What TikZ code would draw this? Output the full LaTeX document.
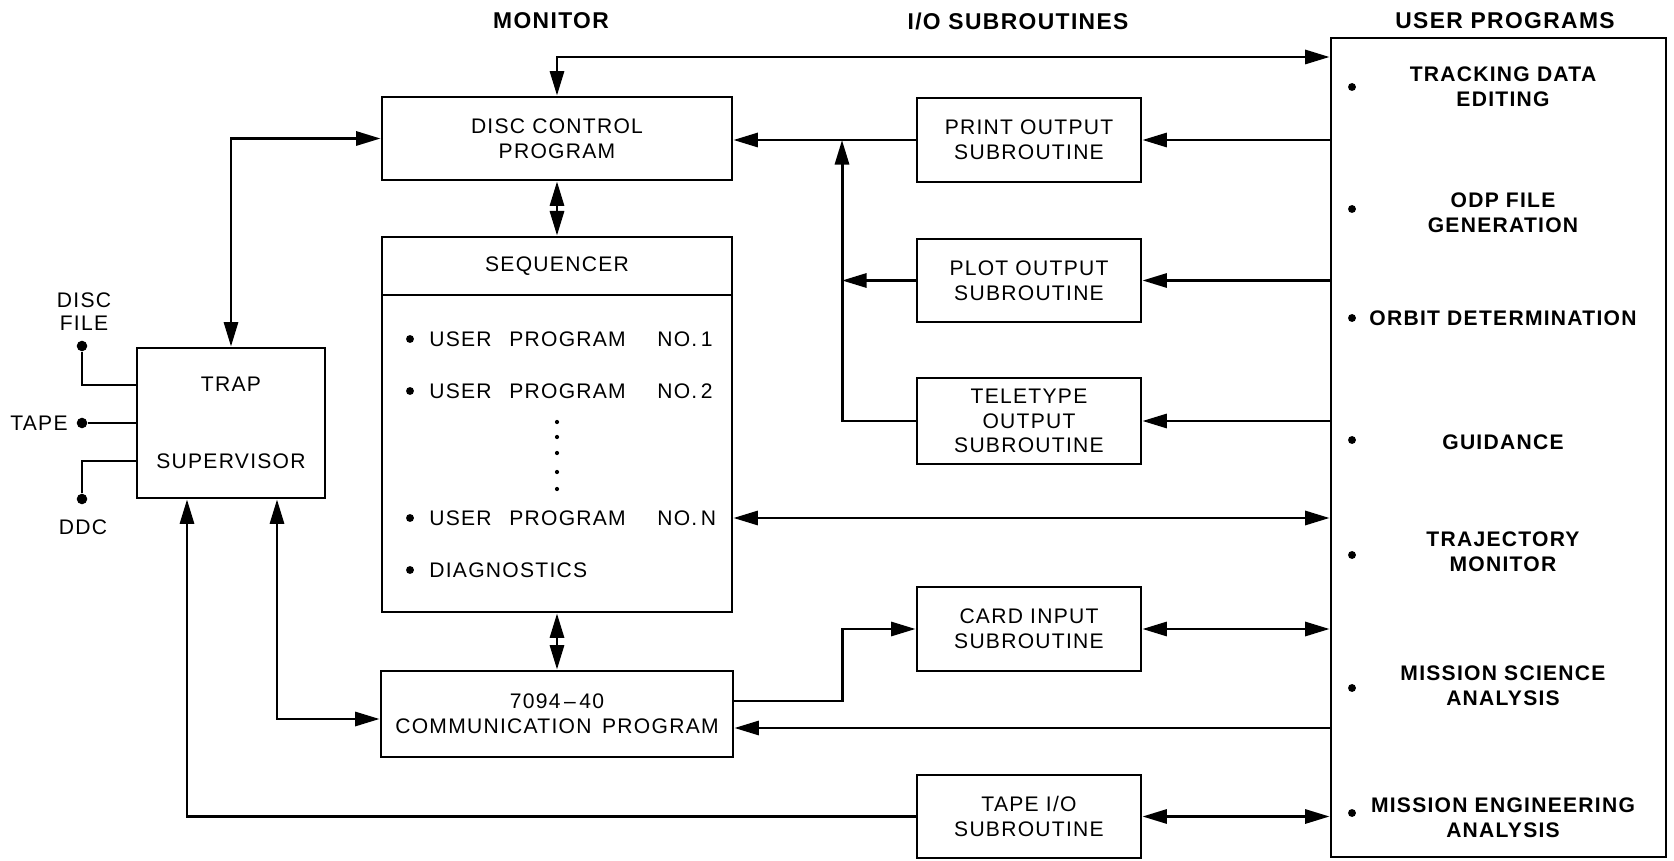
\documentclass[tikz,border=0pt]{standalone}
\usepackage{fontspec}
\setmainfont{Liberation Sans}[LetterSpace=6]
\usetikzlibrary{arrows.meta,calc}
\tikzset{
  pbox/.style={rectangle, draw, line width=1.6pt, inner sep=2pt, align=center,
               font=\fontsize{12}{14}\selectfont},
  pline/.style={line width=1.7pt},
  pdir/.style ={pline, -{Triangle[length=14pt,width=8pt]}},
  pdir2/.style={pline, {Triangle[length=14pt,width=8pt]}-{Triangle[length=14pt,width=8pt]}},
  ptitle/.style={font=\fontsize{13}{15}\selectfont\bfseries},
  pitem/.style={anchor=west, inner sep=0pt, font=\fontsize{12}{14}\selectfont},
  plist/.style={align=center, inner sep=0pt, font=\fontsize{12}{14.5}\selectfont\bfseries},
  plabel/.style={align=center, inner sep=0pt, font=\fontsize{12}{13}\selectfont},
  pbull/.style={circle, fill, inner sep=0pt, minimum size=4.5pt},
  pdot/.style ={circle, fill, inner sep=0pt, minimum size=2.4pt},
  pterm/.style={circle, fill, inner sep=0pt, minimum size=6pt},
}

\begin{document}
\begin{tikzpicture}[x=0.02cm, y=-0.02cm]
  \useasboundingbox (0,0) rectangle (1674,861);

  \node[ptitle] (tmon) at (551,21)  {MONITOR};
  \node[ptitle] (tio)  at (1018,21) {I/O SUBROUTINES};
  \node[ptitle] (tusr) at (1505,21) {USER PROGRAMS};

  \node[pbox, minimum width=3.76cm, minimum height=3cm] (trap) at (231,423)
    {TRAP\\[30pt]SUPERVISOR};
  \node[pbox, minimum width=7cm, minimum height=1.66cm] (disc) at (557,138.5)
    {DISC CONTROL\\PROGRAM};
  \node[pbox, minimum width=7cm, minimum height=1.16cm] (seqhead) at (557,266)
    {SEQUENCER};
  \node[pbox, minimum width=7cm, minimum height=6.34cm] (seqbody) at (557,453.5) {};
  \node[pbox, minimum width=7.04cm, minimum height=1.72cm] (comm) at (557,714)
    {7094\,--\,40\\COMMUNICATION\hspace{6pt}PROGRAM};

  \node[pbox, minimum width=4.48cm, minimum height=1.68cm] (print) at (1029,140)
    {PRINT OUTPUT\\SUBROUTINE};
  \node[pbox, minimum width=4.48cm, minimum height=1.66cm] (plot) at (1029,280.5)
    {PLOT OUTPUT\\SUBROUTINE};
  \node[pbox, minimum width=4.48cm, minimum height=1.72cm] (tele) at (1029,421)
    {TELETYPE\\OUTPUT\\SUBROUTINE};
  \node[pbox, minimum width=4.48cm, minimum height=1.68cm] (card) at (1029,629)
    {CARD INPUT\\SUBROUTINE};
  \node[pbox, minimum width=4.48cm, minimum height=1.66cm] (tape) at (1029,816.5)
    {TAPE I/O\\SUBROUTINE};

  \node[pbox, minimum width=6.7cm, minimum height=16.38cm] (user) at (1498.5,447.5) {};

  \foreach \yy/\nn in {339/1, 391/2, 518/N} {
    \node[pbull] (sb\nn) at (410,\yy) {};
    \node[pitem] (up\nn) at (429,\yy) {USER\hspace{10pt}PROGRAM};
    \node[pitem] (no\nn) at (657,\yy) {NO.\,\nn};
  }
  \node[pbull] (sbd) at (410,570) {};
  \node[pitem] (diag) at (429,570) {DIAGNOSTICS};
  \foreach \yy in {422,437,453,472,489}
    \node[pdot] (sd\yy) at (557,\yy) {};

  \foreach \yy/\by/\txt in {87/87/{TRACKING DATA\\EDITING}, 213/209/{ODP FILE\\GENERATION},
      318/318/{ORBIT DETERMINATION}, 442/440/{GUIDANCE}, 552/555/{TRAJECTORY\\MONITOR},
      686/688/{MISSION SCIENCE\\ANALYSIS}, 818/813/{MISSION ENGINEERING\\ANALYSIS}} {
    \node[pbull] (ub\yy) at (1352,\by) {};
    \node[plist] (ut\yy) at (1503,\yy) {\txt};
  }

  \node[pterm] (dfile) at (82,346) {};
  \node[pterm] (dtape) at (82,423) {};
  \node[pterm] (dddc)  at (82,499) {};
  \node[plabel] (ldfile) at (84,312) {DISC\\FILE};
  \node[plabel, anchor=east] (ldtape) at (68,423) {TAPE};
  \node[plabel] (ldddc) at (83,527) {DDC};
  \draw[pline] (dfile) |- (trap.west |- 0,385);
  \draw[pline] (dtape) -- (trap.west);
  \draw[pline] (dddc) |- (trap.west |- 0,461);

  \coordinate (jp) at (842,140);
  \coordinate (jc) at (842,629);

  \draw[pdir2] (user.west |- 0,57) -| (disc.north);
  \draw[pdir2] (trap.north) |- (disc.west);
  \draw[pdir2] (disc.south) -- (seqhead.north);
  \draw[pdir2] (seqbody.south) -- (comm.north);
  \draw[pdir] (print.west) -- (print.west -| disc.east);
  \draw[pdir] (tele.west) -| (jp);
  \draw[pdir] (plot.west) -- (plot.west -| jp);
  \draw[pdir] (user.west |- print.east) -- (print.east);
  \draw[pdir] (user.west |- plot.east) -- (plot.east);
  \draw[pdir] (user.west |- tele.east) -- (tele.east);
  \draw[pdir2] (seqbody.east |- noN) -- (user.west |- noN);
  \draw[pdir] (comm.east |- 0,701) -| (jc) -- (card.west);
  \draw[pdir2] (card.east) -- (card.east -| user.west);
  \draw[pdir] (user.west |- 0,728) -- (comm.east |- 0,728);
  \draw[pdir2] (trap.south -| 277,0) |- (comm.west |- 0,719);
  \draw[pdir] (tape.west) -| (trap.south -| 187,0);
  \draw[pdir2] (tape.east) -- (tape.east -| user.west);
\end{tikzpicture}
\end{document}
